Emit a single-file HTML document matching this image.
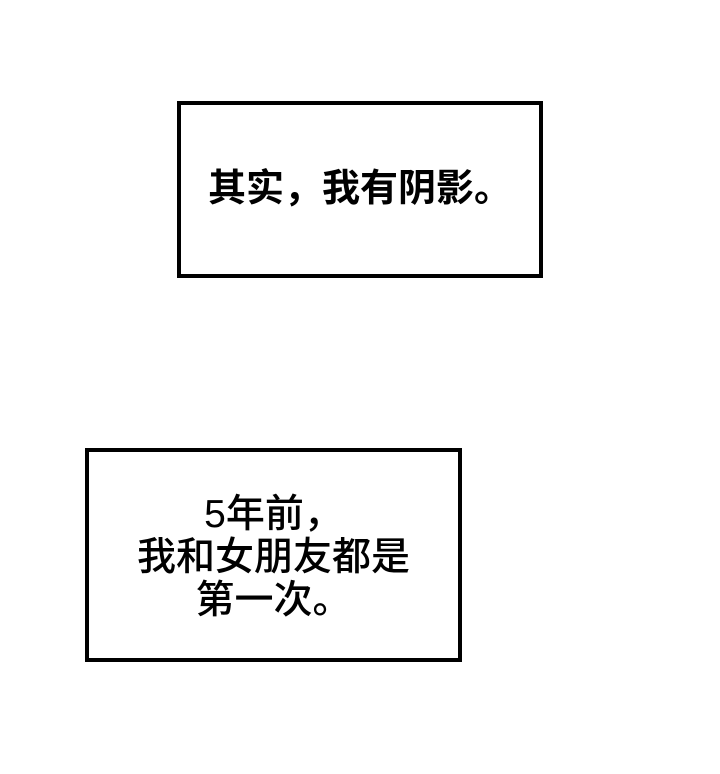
<!DOCTYPE html>
<html><head><meta charset="utf-8"><style>
body{margin:0;width:720px;height:774px;background:#fff;position:relative;overflow:hidden;font-family:"Liberation Sans","Noto Sans CJK SC",sans-serif;font-weight:bold;color:#000}
.b{position:absolute;box-sizing:border-box;border:4px solid #000;background:#fff;display:flex;align-items:center;justify-content:center;text-align:center}
</style></head><body>
<div class="b" style="left:177px;top:101px;width:366px;height:177px;font-size:38px;padding-bottom:10px;">其实，我有阴影。</div>
<div class="b" style="left:85px;top:448px;width:377px;height:214px;font-size:39px;line-height:43px;padding-top:4px;font-weight:500;">5年前，<br>我和女朋友都是<br>第一次。</div>
</body></html>
